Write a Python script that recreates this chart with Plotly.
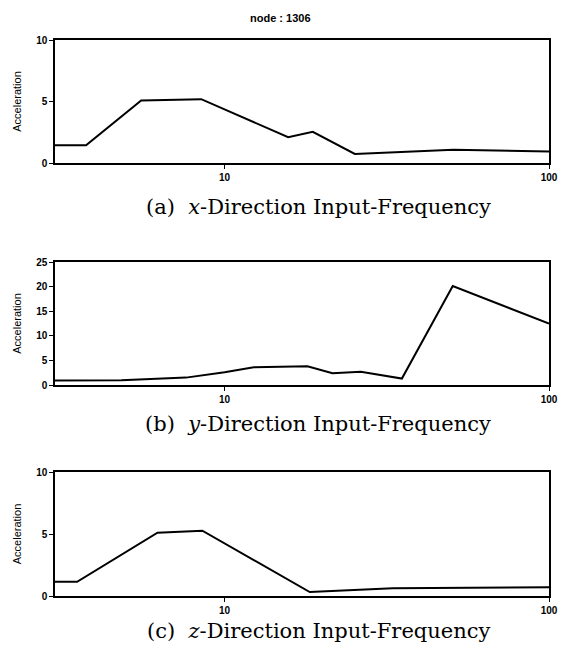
import numpy as np
import plotly.graph_objects as go

# Data (frequency [Hz], acceleration)
freq_x = [3.0, 3.74, 5.53, 8.47, 15.7, 18.7, 25.2, 50.7, 100]
acc_x = [1.45, 1.45, 5.08, 5.19, 2.1, 2.54, 0.74, 1.07, 0.93]

freq_y = [3.0, 4.8, 7.6, 10.0, 12.3, 18.0, 21.5, 26.3, 35.2, 50.5, 100]
acc_y = [0.9, 0.95, 1.5, 2.6, 3.6, 3.8, 2.4, 2.7, 1.3, 20.1, 12.5]

freq_z = [3.0, 3.51, 6.21, 8.54, 18.3, 33.0, 100]
acc_z = [1.15, 1.15, 5.1, 5.27, 0.32, 0.62, 0.7]

y_ticks_a = [0, 5, 10]
y_ticks_b = [0, 5, 10, 15, 20, 25]
y_ticks_c = [0, 5, 10]
x_ticks = [10, 100]

captions = ["(a)&nbsp;&nbsp;<i>x</i>-Direction&nbsp;Input-Frequency",
            "(b)&nbsp;&nbsp;<i>y</i>-Direction&nbsp;Input-Frequency",
            "(c)&nbsp;&nbsp;<i>z</i>-Direction&nbsp;Input-Frequency"]
title_text = "node : 1306"

W, H = 561, 648

def px(x):
    return x / W

def py(y):
    return 1 - y / H

def ydom(top, bot):
    return [py(bot), py(top)]

panels = [
    (freq_x, acc_x, y_ticks_a, [0, 10], ydom(40, 163)),
    (freq_y, acc_y, y_ticks_b, [0, 25], ydom(262, 385)),
    (freq_z, acc_z, y_ticks_c, [0, 10], ydom(472, 596)),
]

fig = go.Figure()
tickfont = dict(family="Liberation Sans, Arial", size=10, color="black", weight="bold")
layout = dict(
    width=W, height=H, margin=dict(l=0, r=0, t=0, b=0, autoexpand=False),
    paper_bgcolor="white", plot_bgcolor="white", showlegend=False,
)
for i, (fx, ay, yt, yr, dom) in enumerate(panels):
    n = "" if i == 0 else str(i + 1)
    fig.add_trace(go.Scatter(x=fx, y=ay, mode="lines",
                             line=dict(color="black", width=2),
                             xaxis="x" + n, yaxis="y" + n))
    layout["xaxis" + n] = dict(
        type="log", range=[np.log10(3), 2], domain=[px(55), px(549)],
        anchor="y" + n, tickvals=x_ticks, ticktext=[str(v) for v in x_ticks],
        ticks="outside", ticklen=4, tickcolor="black",
        showline=True, linecolor="black", linewidth=1.5, mirror=True,
        showgrid=False, zeroline=False, ticklabeloverflow="allow",
        automargin=False, tickfont=tickfont,
    )
    layout["yaxis" + n] = dict(
        range=yr, domain=dom, anchor="x" + n, tickvals=yt,
        ticks="outside", ticklen=4, tickcolor="black",
        showline=True, linecolor="black", linewidth=1.5, mirror=True,
        showgrid=False, zeroline=False, tickfont=tickfont, automargin=False,
        title=dict(text="Acceleration", standoff=12,
                   font=dict(family="Liberation Sans, Arial", size=11, color="black")),
    )

fig.update_layout(**layout)

annots = [dict(text="<b>" + title_text + "</b>", x=px(280), y=py(18),
               xref="paper", yref="paper", showarrow=False,
               xanchor="center", yanchor="middle",
               font=dict(family="Liberation Sans, Arial", size=11, color="black"))]
for cap, yc in zip(captions, [207, 424, 631]):
    annots.append(dict(text=cap, x=px(318), y=py(yc), xref="paper", yref="paper",
                       showarrow=False, xanchor="center", yanchor="middle",
                       font=dict(family="DejaVu Serif, serif", size=21, color="black")))
fig.update_layout(annotations=annots)

fig.write_html("out.html",
               config={"displayModeBar": False},
               post_script="document.body.style.margin='0';"
                           "document.documentElement.style.overflow='hidden';"
                           "document.body.style.overflow='hidden';")
